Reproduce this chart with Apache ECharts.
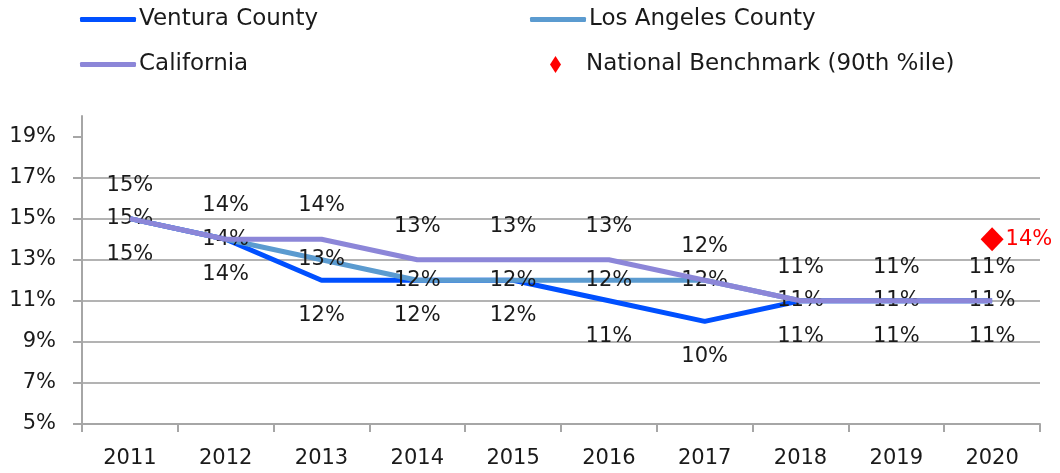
<!DOCTYPE html>
<html><head><meta charset="utf-8">
<script src="https://cdn.jsdelivr.net/npm/echarts@6/dist/echarts.min.js"></script>
<style>html,body{margin:0;padding:0;background:#fff}#c{width:1060px;height:473px}</style>
</head><body><div id="c"></div>
<script>
const years = ['2011','2012','2013','2014','2015','2016','2017','2018','2019','2020'];
const ventura = [15,14,12,12,12,11,10,11,11,11];
const losAngeles = [15,14,13,12,12,12,12,11,11,11];
const california = [15,14,14,13,13,13,12,11,11,11];
const benchmark = [null,null,null,null,null,null,null,null,null,14];
const yTicks = [5,7,9,11,13,15,17,19];

const FONT = "'DejaVu Sans', sans-serif";
const labelStyle = {fontFamily: FONT, fontSize: 21, color: '#1a1a1a'};
const legendText = {fontFamily: FONT, fontSize: 23, color: '#1a1a1a', padding: [0,0,0,-2]};
const pct = p => p.value + '%';

const chart = echarts.init(document.getElementById('c'));
chart.setOption({
  animation: false,
  textStyle: {fontFamily: FONT},
  grid: {left: 82, right: 20, top: 116, bottom: 49},
  legend: [
    {data: ['Ventura County'], left: 75, top: 3, icon: 'roundRect', itemWidth: 56, itemHeight: 5, itemGap: 0, textStyle: legendText},
    {data: ['Los Angeles County'], left: 525, top: 3, icon: 'roundRect', itemWidth: 56, itemHeight: 5, itemGap: 0, textStyle: legendText},
    {data: ['California'], left: 75, top: 48, icon: 'roundRect', itemWidth: 56, itemHeight: 5, itemGap: 0, textStyle: legendText},
    {data: ['National Benchmark (90th %ile)'], left: 545, top: 48, icon: 'diamond', itemWidth: 11, itemHeight: 17, itemGap: 0,
     textStyle: {fontFamily: FONT, fontSize: 23, color: '#1a1a1a', padding: [0,0,0,20]}}
  ],
  xAxis: {
    type: 'category', data: years, boundaryGap: true,
    axisLine: {lineStyle: {color: '#a6a6a6', width: 2}},
    axisTick: {show: true, length: 8, lineStyle: {color: '#a6a6a6', width: 2}},
    axisLabel: {fontFamily: FONT, fontSize: 21, color: '#1a1a1a', margin: 24},
    splitLine: {show: false}
  },
  yAxis: {
    type: 'value', min: 5, max: 20, interval: 2,
    axisLine: {show: true, lineStyle: {color: '#a6a6a6', width: 2}},
    axisTick: {show: true, length: 9, customValues: yTicks, lineStyle: {color: '#a6a6a6', width: 2}},
    axisLabel: {fontFamily: FONT, fontSize: 21, color: '#1a1a1a', margin: 26, customValues: yTicks,
                formatter: v => v + '%'},
    splitLine: {show: true, showMaxLine: false, lineStyle: {color: '#b3b3b3', width: 2}}
  },
  series: [
    {name: 'Ventura County', type: 'line', data: ventura, symbol: 'circle', symbolSize: 0.1, showSymbol: true,
     color: '#0050ff', lineStyle: {width: 5, color: '#0050ff'},
     label: {show: true, position: 'bottom', distance: 25, formatter: pct, ...labelStyle}, z: 2},
    {name: 'Los Angeles County', type: 'line', data: losAngeles, symbol: 'circle', symbolSize: 0.1, showSymbol: true,
     color: '#5b9bd0', lineStyle: {width: 5, color: '#5b9bd0'},
     label: {show: true, position: 'inside', formatter: pct, ...labelStyle}, z: 3},
    {name: 'California', type: 'line', data: california, symbol: 'circle', symbolSize: 0.1, showSymbol: true,
     color: '#8c86d8', lineStyle: {width: 5, color: '#8c86d8'},
     label: {show: true, position: 'top', distance: 23, formatter: pct, ...labelStyle}, z: 4},
    {name: 'National Benchmark (90th %ile)', type: 'scatter', data: benchmark, symbol: 'diamond', symbolSize: [23, 24],
     color: '#ff0000', itemStyle: {color: '#ff0000', opacity: 1},
     label: {show: true, position: 'right', distance: 2, formatter: pct, fontFamily: FONT, fontSize: 21, color: '#ff0000'}, z: 5}
  ]
});
</script></body></html>
